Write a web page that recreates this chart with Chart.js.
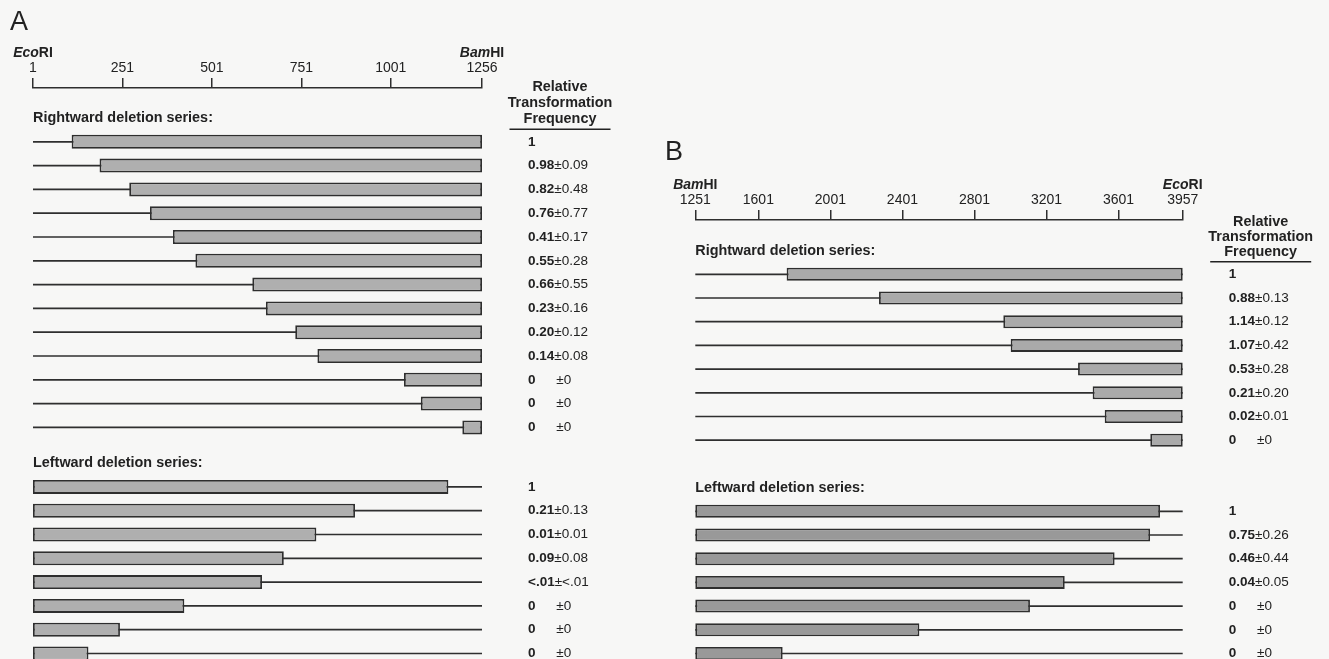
<!DOCTYPE html>
<html>
<head>
<meta charset="utf-8">
<title>Deletion mapping of the EcoRI–BamHI and BamHI–EcoRI fragments</title>
<script src="https://cdn.jsdelivr.net/npm/chart.js@4/dist/chart.umd.min.js"></script>
<style>
  html, body { margin: 0; padding: 0; background: #f7f7f6; }
  #wrap { position: relative; width: 1329px; height: 659px; overflow: hidden; }
  canvas { position: absolute; top: 0; }
  #panelA { left: 0; }
  #panelB { left: 660px; }
</style>
</head>
<body>
<div id="wrap">
  <canvas id="panelA" width="660" height="659"></canvas>
  <canvas id="panelB" width="669" height="659"></canvas>
</div>
<script>
// ---- Panel A: EcoRI (1) to BamHI (1256) ----
const aTicks = [1, 251, 501, 751, 1001, 1256];
// rightward deletions: insert kept from this coordinate to BamHI
const aRightStarts = [109, 187, 270, 328, 392, 455, 614, 652, 734, 796, 1038, 1085, 1201];
const aRightMean = ['1', '0.98', '0.82', '0.76', '0.41', '0.55', '0.66', '0.23', '0.20', '0.14', '0', '0', '0'];
const aRightSd   = ['',  '0.09', '0.48', '0.77', '0.17', '0.28', '0.55', '0.16', '0.12', '0.08', '0', '0', '0'];
// leftward deletions: insert kept from EcoRI to this coordinate
const aLeftEnds = [1162, 901, 793, 702, 641, 424, 244, 156];
const aLeftMean = ['1', '0.21', '0.01', '0.09', '<.01', '0', '0', '0'];
const aLeftSd   = ['',  '0.13', '0.01', '0.08', '<.01', '0', '0', '0'];

// ---- Panel B: BamHI (1251) to EcoRI (3957) ----
const bTicks = [1251, 1601, 2001, 2401, 2801, 3201, 3601, 3957];
const bRightStarts = [1758, 2271, 2961, 3002, 3376, 3457, 3524, 3777];
const bRightMean = ['1', '0.88', '1.14', '1.07', '0.53', '0.21', '0.02', '0'];
const bRightSd   = ['',  '0.13', '0.12', '0.42', '0.28', '0.20', '0.01', '0'];
const bLeftEnds = [3831, 3776, 3579, 3302, 3109, 2495, 1736];
const bLeftMean = ['1', '0.75', '0.46', '0.04', '0', '0', '0'];
const bLeftSd   = ['',  '0.26', '0.44', '0.05', '0', '0', '0'];

const FONT = '"Liberation Sans", Arial, Helvetica, sans-serif';
const INK = '#222222';
const EDGE = '#2e2e2e';

function siteLabel(ctx, x, y, italicPart, romanPart) {
  ctx.font = 'italic bold 14px ' + FONT;
  const w1 = ctx.measureText(italicPart).width;
  ctx.font = 'bold 14px ' + FONT;
  const w2 = ctx.measureText(romanPart).width;
  const sx = x - (w1 + w2) / 2;
  ctx.textAlign = 'left';
  ctx.font = 'italic bold 14px ' + FONT;
  ctx.fillText(italicPart, sx, y);
  ctx.font = 'bold 14px ' + FONT;
  ctx.fillText(romanPart, sx + w1, y);
}

function freqLabel(ctx, x, y, mean, sd) {
  ctx.textAlign = 'left';
  ctx.font = 'bold 13.5px ' + FONT;
  ctx.fillText(mean, x, y);
  if (sd === '') return;
  let w = ctx.measureText(mean).width;
  if (mean === '0') w = ctx.measureText('0.00').width + 2;
  ctx.font = '13.5px ' + FONT;
  ctx.fillText('\u00B1' + sd, x + w, y);
}

function makeNotes(p, L) {
  return {
    id: 'notes' + p.letter,
    afterDraw(chart) {
      const ctx = chart.ctx, xs = chart.scales.x, ys = chart.scales.y;
      const first = p.ticks[0], last = p.ticks[p.ticks.length - 1];
      const left = xs.getPixelForValue(first), right = xs.getPixelForValue(last);
      const nR = p.rightStarts.length;
      ctx.save();
      ctx.fillStyle = INK;
      ctx.strokeStyle = INK;
      ctx.textBaseline = 'middle';

      // panel letter
      ctx.textAlign = 'left';
      ctx.font = '27px ' + FONT;
      ctx.fillText(p.letter, L.letterX, L.letterY);

      // restriction sites over the end ticks
      const siteY = xs.bottom - 35;
      siteLabel(ctx, left, siteY, p.leftSite[0], p.leftSite[1]);
      siteLabel(ctx, right, siteY, p.rightSite[0], p.rightSite[1]);

      // series headings
      ctx.textAlign = 'left';
      ctx.font = 'bold 14.4px ' + FONT;
      ctx.fillText('Rightward deletion series:', left, ys.getPixelForValue(0));
      ctx.fillText('Leftward deletion series:', left, ys.getPixelForValue(nR + L.gap));

      // column heading
      const row1 = ys.getPixelForValue(1);
      const hx = right + 78;
      ctx.textAlign = 'center';
      ctx.font = 'bold 14.4px ' + FONT;
      ['Relative', 'Transformation', 'Frequency'].forEach((t, i) => {
        ctx.fillText(t, hx, row1 - 22.5 - (2 - i) * L.headStep);
      });
      ctx.lineWidth = 1.4;
      ctx.beginPath();
      ctx.moveTo(hx - 50.5, row1 - 12.5);
      ctx.lineTo(hx + 50.5, row1 - 12.5);
      ctx.stroke();

      // frequencies
      const vx = right + 46;
      p.rightMean.forEach((m, i) => freqLabel(ctx, vx, ys.getPixelForValue(i + 1), m, p.rightSd[i]));
      p.leftMean.forEach((m, i) => freqLabel(ctx, vx, ys.getPixelForValue(nR + L.gap + 1 + i), m, p.leftSd[i]));
      ctx.restore();
    }
  };
}

function buildPanel(canvasId, p, L) {
  const first = p.ticks[0], last = p.ticks[p.ticks.length - 1];
  const nR = p.rightStarts.length;
  const inserts = [], vector = [], fills = [];
  p.rightStarts.forEach((s, i) => {
    inserts.push({ x: [s, last], y: i + 1 });
    vector.push({ x: [first, last], y: i + 1 });
    fills.push(L.rightFill);
  });
  p.leftEnds.forEach((e, i) => {
    const v = nR + L.gap + 1 + i;
    inserts.push({ x: [first, e], y: v });
    vector.push({ x: [first, last], y: v });
    fills.push(L.leftFill);
  });

  const canvas = document.getElementById(canvasId);
  const H = canvas.height, W = canvas.width;
  const yMin = -(L.headerY - L.axisY) / L.rowStep;
  const yMax = yMin + (H - L.axisY) / L.rowStep;
  const axisBox = 40;

  return new Chart(canvas, {
    type: 'bar',
    data: {
      datasets: [
        {
          label: 'insert',
          data: inserts,
          backgroundColor: fills,
          borderColor: EDGE,
          borderWidth: 1.8,
          borderSkipped: false,
          grouped: false,
          barThickness: L.barH,
          inflateAmount: 0,
          clip: false
        },
        {
          label: 'vector',
          data: vector,
          backgroundColor: '#2f2f2f',
          borderWidth: 0,
          grouped: false,
          barThickness: 1.7,
          inflateAmount: 0,
          clip: false
        }
      ]
    },
    options: {
      indexAxis: 'y',
      responsive: false,
      animation: false,
      events: [],
      layout: { padding: { left: L.left, right: W - L.right, top: L.axisY - axisBox, bottom: 0 } },
      plugins: { legend: { display: false }, tooltip: { enabled: false } },
      scales: {
        x: {
          type: 'linear',
          position: 'top',
          min: first,
          max: last,
          afterBuildTicks: s => { s.ticks = p.ticks.map(v => ({ value: v })); },
          afterFit: s => { s.height = axisBox; },
          grid: { display: true, drawOnChartArea: false, drawTicks: true, tickLength: 10, color: EDGE, lineWidth: 1.5 },
          border: { display: true, color: EDGE, width: 1.5 },
          ticks: {
            autoSkip: false, maxRotation: 0, padding: 1, color: INK,
            font: { family: FONT, size: 14 },
            callback: v => String(v)
          }
        },
        y: {
          type: 'linear',
          reverse: true,
          display: false,
          min: yMin,
          max: yMax,
          afterBuildTicks: s => { s.ticks = []; }
        }
      }
    },
    plugins: [makeNotes(p, L)]
  });
}

buildPanel('panelA', {
  letter: 'A', ticks: aTicks,
  leftSite: ['Eco', 'RI'], rightSite: ['Bam', 'HI'],
  rightStarts: aRightStarts, rightMean: aRightMean, rightSd: aRightSd,
  leftEnds: aLeftEnds, leftMean: aLeftMean, leftSd: aLeftSd
}, {
  left: 33, right: 482, axisY: 88, headerY: 118, rowStep: 23.8, gap: 1.5,
  barH: 14, headStep: 16, letterX: 10, letterY: 23,
  rightFill: '#afafaf', leftFill: '#afafaf'
});

buildPanel('panelB', {
  letter: 'B', ticks: bTicks,
  leftSite: ['Bam', 'HI'], rightSite: ['Eco', 'RI'],
  rightStarts: bRightStarts, rightMean: bRightMean, rightSd: bRightSd,
  leftEnds: bLeftEnds, leftMean: bLeftMean, leftSd: bLeftSd
}, {
  left: 35.3, right: 522.7, axisY: 220, headerY: 250.6, rowStep: 23.7, gap: 2,
  barH: 13, headStep: 15, letterX: 5, letterY: 153,
  rightFill: '#aaaaaa', leftFill: '#999999'
});
</script>
</body>
</html>
